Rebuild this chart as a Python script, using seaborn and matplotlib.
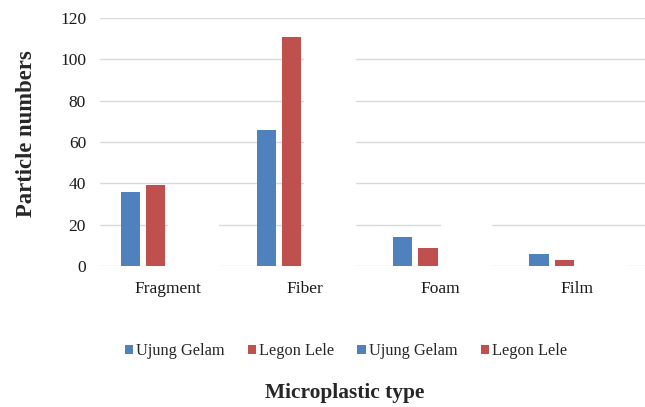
import matplotlib
matplotlib.use("Agg")
import matplotlib.pyplot as plt
from matplotlib.patches import Patch
import seaborn as sns
import pandas as pd

categories = ["Fragment", "Fiber", "Foam", "Film"]
series_names = ["Ujung Gelam", "Legon Lele", "Ujung Gelam", "Legon Lele"]
ujung_gelam = [36, 66, 14, 6]
legon_lele = [39, 111, 9, 3]
# second pair of series is drawn in white in the reference (only visible as gaps in gridlines)
hidden_a = [30, 110, 30, 10]
hidden_b = [30, 110, 30, 10]
yticks = [0, 20, 40, 60, 80, 100, 120]

colors = ["#4F81BD", "#C0504D", "#FFFFFF", "#FFFFFF"]
legend_colors = ["#4F81BD", "#C0504D", "#4F81BD", "#C0504D"]

keys = ["s1", "s2", "s3", "s4"]
rows = []
for k, vals in zip(keys, [ujung_gelam, legon_lele, hidden_a, hidden_b]):
    for c, v in zip(categories, vals):
        rows.append({"cat": c, "series": k, "value": v})
df = pd.DataFrame(rows)

sns.set_theme(style="white")
plt.rcParams["font.family"] = ["Liberation Serif", "DejaVu Serif"]

fig = plt.figure(figsize=(6.45, 4.07), dpi=100)
ax = fig.add_axes([0.155, 0.346, 0.845, 0.61])
ax.set_axisbelow(True)
ax.yaxis.grid(True, color="#D9D9D9", linewidth=1.0)

sns.barplot(data=df, x="cat", y="value", hue="series", hue_order=keys,
            order=categories, palette=colors, width=0.74, gap=0.24,
            saturation=1, linewidth=0, ax=ax, legend=False)

# white series: widen with white edges so the gridline gap is continuous
for patch in ax.patches:
    fc = patch.get_facecolor()
    if fc[0] > 0.99 and fc[1] > 0.99 and fc[2] > 0.99:
        patch.set_edgecolor("white")
        patch.set_linewidth(5)

ax.set_ylim(0, 120)
ax.set_xlim(-0.5, 3.5)
ax.set_yticks(yticks)
ax.set_yticklabels([str(t) for t in yticks], fontsize=12.5, color="#1a1a1a")
ax.set_xticks(range(len(categories)))
ax.set_xticklabels(categories, fontsize=12.5, color="#1a1a1a")
ax.tick_params(axis="y", length=0, pad=10)
ax.tick_params(axis="x", length=0, pad=11)
for s in ax.spines.values():
    s.set_visible(False)
ax.set_xlabel("")
ax.set_ylabel("Particle numbers", fontsize=16.3, fontweight="bold")
ax.yaxis.set_label_coords(-0.116, 0.532)

handles = [Patch(facecolor=c, edgecolor="none") for c in legend_colors]
fig.legend(handles, series_names, loc="center", bbox_to_anchor=(346 / 645, 1 - 351 / 407),
           ncol=4, frameon=False, fontsize=11.8, handlelength=0.5, handleheight=0.5,
           handletextpad=0.2, columnspacing=1.4)

fig.text(345 / 645, 1 - 393 / 407, "Microplastic type", ha="center", va="center",
         fontsize=15.4, fontweight="bold")

fig.savefig("out.png", dpi=100)
